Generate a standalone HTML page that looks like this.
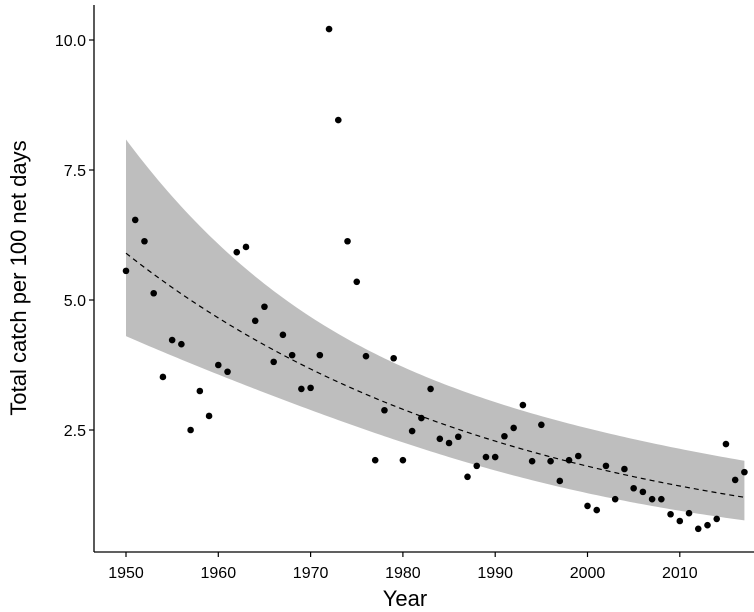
<!DOCTYPE html>
<html><head><meta charset="utf-8"><style>
html,body{margin:0;padding:0;background:#fff;}
svg{display:block;font-family:"Liberation Sans",sans-serif;}
</style></head><body>
<svg id="chart" width="754" height="612" xmlns="http://www.w3.org/2000/svg">
<g id="band"></g>
<g id="fit"></g>
<g id="pts"></g>
<g id="axes"></g>
</svg>
<script>
const years = [1950,1951,1952,1953,1954,1955,1956,1957,1958,1959,1960,1961,1962,1963,1964,1965,1966,1967,1968,1969,1970,1971,1972,1973,1974,1975,1976,1977,1978,1979,1980,1981,1982,1983,1984,1985,1986,1987,1988,1989,1990,1991,1992,1993,1994,1995,1996,1997,1998,1999,2000,2001,2002,2003,2004,2005,2006,2007,2008,2009,2010,2011,2012,2013,2014,2015,2016,2017];
const catchValues = [5.56,6.54,6.13,5.13,3.52,4.23,4.15,2.5,3.25,2.77,3.75,3.62,5.92,6.02,4.6,4.87,3.81,4.33,3.94,3.29,3.31,3.94,10.21,8.46,6.13,5.35,3.92,1.92,2.88,3.88,1.92,2.48,2.73,3.29,2.33,2.25,2.37,1.6,1.81,1.98,1.98,2.38,2.54,2.98,1.9,2.6,1.9,1.52,1.92,2.0,1.04,0.96,1.81,1.17,1.75,1.38,1.31,1.17,1.17,0.88,0.75,0.9,0.6,0.67,0.79,2.23,1.54,1.69];
const xTicks = [1950,1960,1970,1980,1990,2000,2010];
const yTicks = [2.5,5.0,7.5,10.0];
const yTickLabels = ["2.5","5.0","7.5","10.0"];
const fitIntercept = 5.9, fitRate = 0.0237, fitBase = 1950;
const seMin = 0.24, seCenter = 1973, seCurv = 7.9e-5;

const NS="http://www.w3.org/2000/svg";
const x = v => 126 + (v-1950)*9.23;
const y = v => 430 - (v-2.5)*52;
function el(tag, attrs, parent){const e=document.createElementNS(NS,tag);for(const k in attrs)e.setAttribute(k,attrs[k]);parent.appendChild(e);return e;}
const mean = t => fitIntercept*Math.exp(-fitRate*(t-fitBase));
const se = t => Math.sqrt(seMin*seMin + seCurv*(t-seCenter)*(t-seCenter));
const t0 = years[0], t1 = years[years.length-1];
let up=[], lo=[], mid=[];
for(let t=t0;t<=t1+0.001;t+=0.5){up.push(x(t)+","+y(mean(t)*Math.exp(se(t))));lo.push(x(t)+","+y(mean(t)*Math.exp(-se(t))));mid.push(x(t)+","+y(mean(t)));}
const band = el('polygon',{points:up.concat(lo.reverse()).join(' '),fill:'#bebebe'},document.getElementById('band'));


const line = el('polyline',{points:mid.join(' '),fill:'none',stroke:'#000','stroke-width':1.2,'stroke-dasharray':'5,4'},document.getElementById('fit'));


const pg=document.getElementById('pts');
years.forEach((yr,i)=>{
  const c=el('circle',{cx:x(yr),cy:y(catchValues[i]),r:3.3,fill:'#000'},pg);
  
  
});
const ax=document.getElementById('axes');
el('line',{x1:94,y1:5,x2:94,y2:552,stroke:'#000','stroke-width':1.3},ax);
el('line',{x1:94,y1:552,x2:754,y2:552,stroke:'#000','stroke-width':1.3},ax);
xTicks.forEach(v=>{
  el('line',{x1:x(v),y1:552,x2:x(v),y2:557,stroke:'#000','stroke-width':1.2},ax);
  const t=el('text',{x:x(v),y:578,'text-anchor':'middle','font-size':16,fill:'#000'},ax);
  t.textContent=v;
  
  
});
yTicks.forEach((v,i)=>{
  el('line',{x1:89,y1:y(v),x2:94,y2:y(v),stroke:'#000','stroke-width':1.2},ax);
  const t=el('text',{x:86,y:y(v)+6,'text-anchor':'end','font-size':16,fill:'#000'},ax);
  t.textContent=yTickLabels[i];
  
  
});
const xt=el('text',{x:405,y:606,'text-anchor':'middle','font-size':22,fill:'#000'},ax);
xt.textContent='Year';


const yt=el('text',{x:0,y:0,'text-anchor':'middle','font-size':22,fill:'#000',transform:'translate(26,278) rotate(-90)'},ax);
yt.textContent='Total catch per 100 net days';


</script>
</body></html>
